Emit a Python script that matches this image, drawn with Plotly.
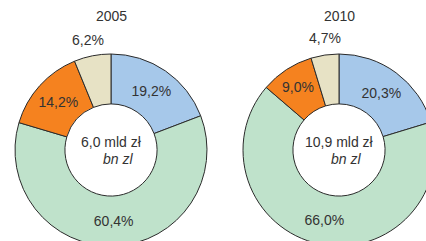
import plotly.graph_objects as go

categories = ["A", "B", "C", "D"]
years = ["2005", "2010"]
values_2005 = [19.2, 60.4, 14.2, 6.2]
values_2010 = [20.3, 66.0, 9.0, 4.7]
labels_2005 = ["19,2%", "60,4%", "14,2%", "6,2%"]
labels_2010 = ["20,3%", "66,0%", "9,0%", "4,7%"]
totals = ["6,0 mld zł", "10,9 mld zł"]
unit_en = "bn zl"

colors = ["#a6c8ea", "#bfe2cb", "#f5821f", "#e7e2c5"]
FONT = "Liberation Sans, Arial, sans-serif"
TXT = "#333333"
FS = 14

W, H = 440, 250
def fx(px): return px / W
def fy(py): return 1 - py / H

fig = go.Figure()
domains = [
    dict(x=[fx(15), fx(207)], y=[fy(246), fy(54)]),
    dict(x=[fx(243), fx(435)], y=[fy(246), fy(54)]),
]
for vals, labs, dom in zip([values_2005, values_2010], [labels_2005, labels_2010], domains):
    inside = [t if i < 3 else "" for i, t in enumerate(labs)]
    fig.add_trace(go.Pie(
        labels=categories, values=vals, text=inside, textinfo="text",
        textposition="inside",
        insidetextorientation="horizontal",
        sort=False, direction="clockwise", rotation=0, hole=0.48,
        marker=dict(colors=colors, line=dict(color="#2b2b2b", width=1)),
        textfont=dict(family=FONT, size=FS, color=TXT),
        domain=dom, showlegend=False, automargin=False, hoverinfo="skip",
    ))

centers = [111, 339]
outside_pos = [(88, 40), (325, 38)]
for cx, yr, tot, labs, (ox, oy) in zip(centers, years, totals, [labels_2005, labels_2010], outside_pos):
    common = dict(xref="paper", yref="paper", showarrow=False, xanchor="center", yanchor="middle")
    fig.add_annotation(x=fx(cx), y=fy(16), text=yr, font=dict(family=FONT, size=FS, color=TXT), **common)
    fig.add_annotation(x=fx(ox), y=fy(oy), text=labs[3], font=dict(family=FONT, size=FS, color=TXT), **common)
    fig.add_annotation(x=fx(cx), y=fy(142), text=tot, font=dict(family=FONT, size=FS, color=TXT), **common)
    fig.add_annotation(x=fx(cx + 7), y=fy(159), text="<i>" + unit_en + "</i>",
                       font=dict(family=FONT, size=FS, color=TXT), **common)

fig.update_layout(width=W, height=H, margin=dict(l=0, r=0, t=0, b=0),
                  paper_bgcolor="white", plot_bgcolor="white")
fig.write_html("out.html", config={"displayModeBar": False},
               post_script="document.body.style.margin='0';document.body.style.overflow='hidden';")
